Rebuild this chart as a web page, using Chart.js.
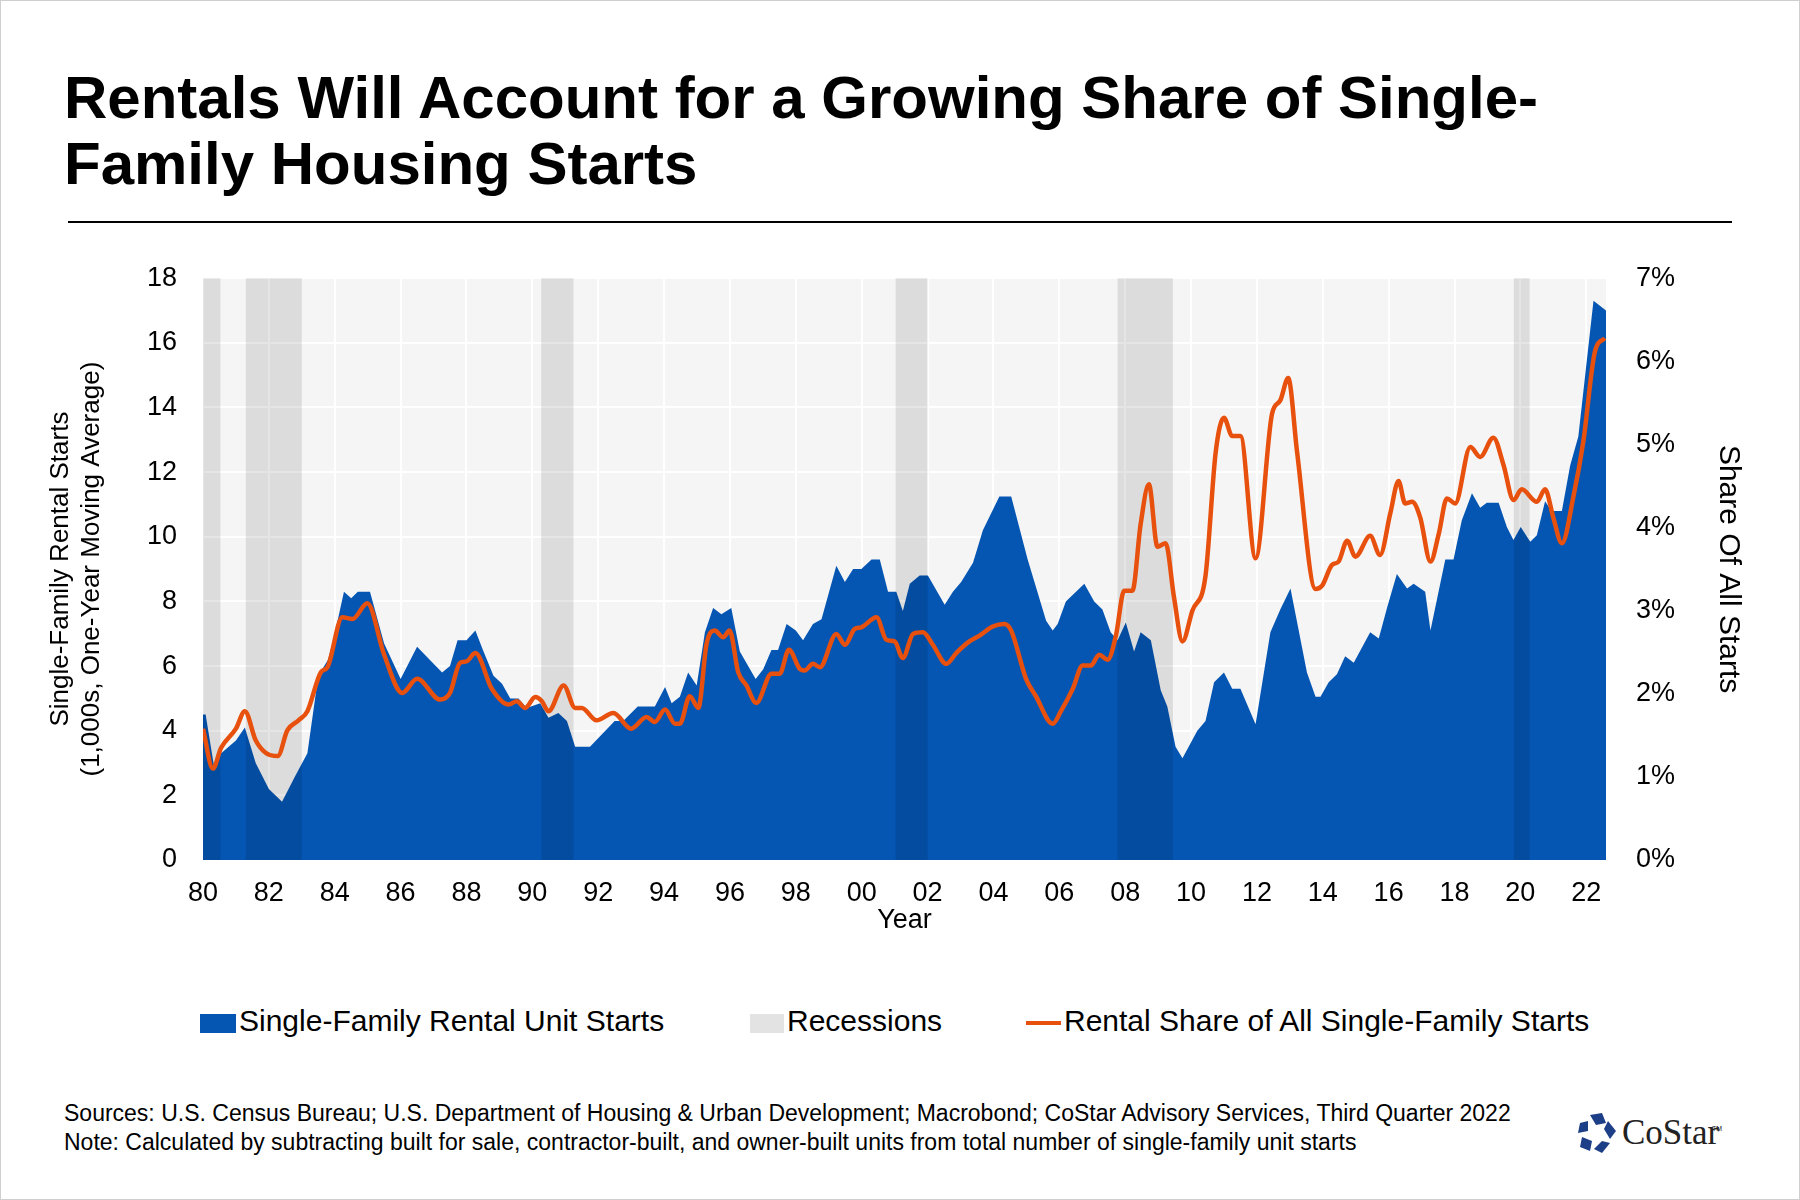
<!DOCTYPE html>
<html>
<head>
<meta charset="utf-8">
<script src="https://cdn.jsdelivr.net/npm/chart.js@4/dist/chart.umd.min.js"></script>
<style>
  body { margin: 0; background: #fff; font-family: "Liberation Sans", Arial, sans-serif; }
  #page { position: relative; width: 1798px; height: 1198px; border: 1px solid #cfcfcf; overflow: hidden; }
  h1 { position: absolute; left: 63px; top: 64px; margin: 0; font-size: 60px; line-height: 66px; font-weight: bold; color: #000; }
  #rule { position: absolute; left: 67px; top: 220px; width: 1664px; height: 2px; background: #000; }
  #wrap { position: absolute; left: 0; top: 235px; width: 1800px; height: 715px; }
  .legend { position: absolute; top: 1004px; font-size: 30px; color: #000; line-height: 32px; }
  .legend i { display: inline-block; vertical-align: middle; margin-right: 3px; }
  .notes { position: absolute; left: 63px; top: 1098px; font-size: 23px; line-height: 29px; color: #000; }
  #logo { position: absolute; left: 1575px; top: 1110px; }
</style>
</head>
<body>
<div id="page">
  <h1>Rentals Will Account for a Growing Share of Single-<br>Family Housing Starts</h1>
  <div id="rule"></div>
  <div id="wrap"><canvas id="chart"></canvas></div>
  <div class="legend" style="left:199px"><i style="width:36px;height:19px;background:#0555b3"></i>Single-Family Rental Unit Starts</div>
  <div class="legend" style="left:749px"><i style="width:34px;height:19px;background:#e3e3e3"></i>Recessions</div>
  <div class="legend" style="left:1025px"><i style="width:35px;height:4px;background:#e8500e"></i>Rental Share of All Single-Family Starts</div>
  <div class="notes">Sources: U.S. Census Bureau; U.S. Department of Housing &amp; Urban Development; Macrobond; CoStar Advisory Services, Third Quarter 2022<br>Note: Calculated by subtracting built for sale, contractor-built, and owner-built units from total number of single-family unit starts</div>
  <svg id="logo" width="150" height="46" viewBox="0 0 150 46">
    <g fill="#1d3f87">
      <polygon points="14,4 26,2 30,12 20,14"/>
      <polygon points="32,10 40,20 34,28 28,18"/>
      <polygon points="34,32 26,42 18,38 26,30"/>
      <polygon points="14,40 4,36 6,26 16,30"/>
      <polygon points="2,22 4,12 12,10 12,20"/>
    </g>
    <text x="46" y="33" font-family="Liberation Serif, serif" font-size="35" fill="#222">CoStar</text>
    <text x="136" y="20" font-family="Liberation Sans, sans-serif" font-size="7" fill="#222">TM</text>
  </svg>
</div>
<script>
const startYears = [1980.0,1980.08,1980.35,1980.55,1981.0,1981.27,1981.6,1982.0,1982.4,1982.8,1983.17,1983.5,1983.8,1984.0,1984.28,1984.5,1984.7,1985.07,1985.5,1986.0,1986.5,1987.26,1987.5,1987.73,1988.0,1988.27,1988.5,1988.82,1989.08,1989.33,1989.58,1989.83,1990.24,1990.49,1990.79,1991.05,1991.3,1991.75,1992.5,1992.76,1993.2,1993.72,1994.03,1994.23,1994.48,1994.73,1994.99,1995.24,1995.49,1995.74,1996.04,1996.3,1996.78,1997.01,1997.26,1997.46,1997.72,1998.0,1998.22,1998.52,1998.78,1999.23,1999.49,1999.74,1999.99,2000.3,2000.55,2000.8,2001.05,2001.25,2001.46,2001.76,2002.01,2002.52,2002.77,2003.02,2003.38,2003.68,2004.18,2004.54,2005.04,2005.6,2005.8,2005.95,2006.2,2006.76,2007.06,2007.31,2007.56,2007.77,2008.02,2008.27,2008.47,2008.78,2009.08,2009.28,2009.53,2009.74,2010.19,2010.44,2010.7,2011.0,2011.25,2011.5,2011.96,2012.41,2012.71,2013.02,2013.27,2013.52,2013.78,2013.93,2014.18,2014.43,2014.68,2014.94,2015.44,2015.7,2015.95,2016.25,2016.56,2016.76,2017.11,2017.27,2017.72,2017.97,2018.22,2018.53,2018.78,2018.98,2019.34,2019.59,2019.79,2020.01,2020.3,2020.5,2020.75,2020.95,2021.26,2021.51,2021.76,2022.22,2022.6];
const startValues = [4.5,4.5,2.8,3.3,3.7,4.1,3.0,2.2,1.8,2.6,3.3,5.7,6.2,7.0,8.3,8.1,8.3,8.3,6.7,5.6,6.6,5.8,6.0,6.8,6.8,7.1,6.5,5.7,5.45,5.0,5.0,4.7,4.85,4.4,4.55,4.3,3.5,3.5,4.3,4.3,4.75,4.75,5.35,4.85,5.05,5.8,5.4,7.05,7.8,7.6,7.8,6.45,5.6,5.9,6.5,6.5,7.3,7.1,6.8,7.3,7.45,9.1,8.6,9.0,9.0,9.3,9.3,8.3,8.3,7.7,8.55,8.8,8.8,7.9,8.3,8.6,9.2,10.2,11.25,11.25,9.3,7.4,7.1,7.3,8.0,8.55,8.0,7.75,7.05,6.8,7.35,6.45,7.05,6.8,5.25,4.75,3.5,3.15,4.0,4.3,5.5,5.8,5.3,5.3,4.2,7.05,7.75,8.4,7.1,5.8,5.05,5.05,5.5,5.75,6.3,6.1,7.05,6.85,7.8,8.85,8.4,8.55,8.3,7.1,9.3,9.3,10.5,11.35,10.9,11.05,11.05,10.3,9.9,10.3,9.85,10.05,11.1,10.8,10.8,12.2,13.1,17.3,17.0];

const shareYears = [1980.0,1980.3,1980.55,1981.0,1981.27,1981.6,1981.9,1982.27,1982.56,1982.9,1983.17,1983.58,1983.78,1984.23,1984.54,1984.99,1985.5,1986.05,1986.5,1987.2,1987.5,1987.8,1988.0,1988.27,1988.77,1989.28,1989.53,1989.78,1990.09,1990.29,1990.49,1990.95,1991.3,1991.5,1991.95,1992.46,1993.0,1993.47,1993.72,1994.03,1994.33,1994.48,1994.78,1995.04,1995.29,1995.54,1995.79,1995.99,1996.25,1996.5,1996.8,1997.26,1997.51,1997.79,1998.12,1998.27,1998.52,1998.73,1999.23,1999.49,1999.79,1999.99,2000.45,2000.75,2001.0,2001.25,2001.56,2001.86,2002.16,2002.57,2002.87,2003.27,2003.58,2003.98,2004.33,2004.54,2004.99,2005.29,2005.8,2006.05,2006.41,2006.71,2006.96,2007.21,2007.47,2007.72,2007.97,2008.22,2008.47,2008.72,2008.98,2009.23,2009.48,2009.74,2010.04,2010.44,2010.75,2011.0,2011.25,2011.5,2011.96,2012.46,2012.71,2012.95,2013.22,2013.78,2013.98,2014.28,2014.48,2014.74,2014.99,2015.44,2015.74,2016.05,2016.3,2016.5,2016.71,2016.96,2017.27,2017.52,2017.77,2018.02,2018.48,2018.78,2019.18,2019.49,2019.79,2020.04,2020.5,2020.75,2021.0,2021.26,2021.61,2021.91,2022.26,2022.56];
const shareValues = [1.58,1.1,1.35,1.58,1.79,1.44,1.29,1.25,1.56,1.68,1.79,2.26,2.32,2.92,2.9,3.09,2.47,2.01,2.18,1.93,2.01,2.37,2.39,2.49,2.06,1.87,1.91,1.83,1.96,1.91,1.79,2.1,1.83,1.83,1.68,1.77,1.58,1.72,1.66,1.81,1.64,1.64,1.97,1.83,2.6,2.76,2.68,2.76,2.26,2.1,1.89,2.24,2.24,2.53,2.3,2.28,2.36,2.32,2.72,2.59,2.78,2.8,2.92,2.65,2.63,2.43,2.72,2.74,2.59,2.36,2.49,2.63,2.7,2.81,2.84,2.76,2.18,1.97,1.64,1.79,2.06,2.34,2.34,2.47,2.41,2.7,3.24,3.24,4.04,4.52,3.77,3.81,3.17,2.63,3.0,3.42,4.91,5.32,5.1,5.1,3.63,5.37,5.53,5.8,4.91,3.26,3.3,3.55,3.59,3.84,3.65,3.9,3.67,4.17,4.56,4.29,4.31,4.12,3.59,3.92,4.35,4.29,4.97,4.85,5.08,4.75,4.33,4.46,4.31,4.46,4.12,3.81,4.37,5.03,6.11,6.28];

const recessionStarts = [1980.0, 1981.3, 1990.27, 2001.03, 2007.77, 2019.8];
const recessionEnds   = [1980.53, 1983.0, 1991.25, 2002.0, 2009.45, 2020.28];

const xTicks = [1980,1982,1984,1986,1988,1990,1992,1994,1996,1998,2000,2002,2004,2006,2008,2010,2012,2014,2016,2018,2020,2022];

const tickFont = { family: 'Liberation Sans', size: 27 };

const plotBg = {
  id: 'plotBg',
  beforeDraw(chart) {
    const { ctx, chartArea: a } = chart;
    ctx.save();
    ctx.fillStyle = '#f5f5f5';
    ctx.fillRect(a.left, a.top, a.right - a.left, a.bottom - a.top);
    ctx.restore();
  }
};

// recession bands drawn over the area (darkens it) but under the line
const recessions = {
  id: 'recessions',
  afterDatasetDraw(chart, args) {
    if (args.index !== 1) return;
    const { ctx, chartArea: a, scales: { x } } = chart;
    ctx.save();
    ctx.fillStyle = 'rgba(0,0,0,0.1)';
    recessionStarts.forEach((s, i) => {
      const x0 = x.getPixelForValue(s), x1 = x.getPixelForValue(recessionEnds[i]);
      ctx.fillRect(x0, a.top, x1 - x0, a.bottom - a.top);
    });
    ctx.restore();
  }
};

new Chart(document.getElementById('chart'), {
  type: 'line',
  data: {
    datasets: [
      {
        label: 'Rental Share of All Single-Family Starts',
        data: shareYears.map((y, i) => ({ x: y, y: shareValues[i] })),
        yAxisID: 'y2',
        borderColor: '#e8500e',
        borderWidth: 4.5,
        pointRadius: 0,
        cubicInterpolationMode: 'monotone',
        fill: false,
        order: 1
      },
      {
        label: 'Single-Family Rental Unit Starts',
        data: startYears.map((y, i) => ({ x: y, y: startValues[i] })),
        yAxisID: 'y',
        borderWidth: 0,
        backgroundColor: '#0555b3',
        pointRadius: 0,
        tension: 0,
        fill: 'origin',
        order: 2
      }
    ]
  },
  options: {
    responsive: true,
    maintainAspectRatio: false,
    animation: false,
    layout: { padding: { top: 28, left: 0, right: 0, bottom: 0 } },
    plugins: { legend: { display: false }, tooltip: { enabled: false } },
    scales: {
      x: {
        type: 'linear', min: 1980, max: 2022.6,
        afterBuildTicks: s => { s.ticks = xTicks.map(v => ({ value: v })); },
        afterFit: s => { s.height = 91; },
        grid: { color: '#ffffff', lineWidth: 2, drawTicks: false },
        border: { display: false },
        ticks: { font: tickFont, color: '#000', padding: 17, maxRotation: 0,
          callback: v => String(v % 100).padStart(2, '0') },
        title: { display: true, text: 'Year', font: tickFont, color: '#000', padding: { top: 0, bottom: 14 } }
      },
      y: {
        position: 'left', min: 0, max: 18,
        afterFit: s => { s.width = 202; },
        grid: { color: '#ffffff', lineWidth: 2, drawTicks: false },
        border: { display: false },
        ticks: { stepSize: 2, font: tickFont, color: '#000', padding: 26 },
        title: { display: true, text: ['Single-Family Rental Starts', '(1,000s, One-Year Moving Average)'],
          font: { family: 'Liberation Sans', size: 26 }, color: '#000', padding: { top: 44, bottom: 0 } }
      },
      y2: {
        position: 'right', min: 0, max: 7,
        afterFit: s => { s.width = 195; },
        grid: { display: false },
        border: { display: false },
        ticks: { stepSize: 1, font: tickFont, color: '#000', padding: 22, callback: v => v + '%' },
        title: { display: true, text: 'Share Of All Starts',
          font: { family: 'Liberation Sans', size: 30 }, color: '#000', padding: { top: 55, bottom: 0 } }
      }
    }
  },
  plugins: [plotBg, recessions]
});
</script>
</body>
</html>
